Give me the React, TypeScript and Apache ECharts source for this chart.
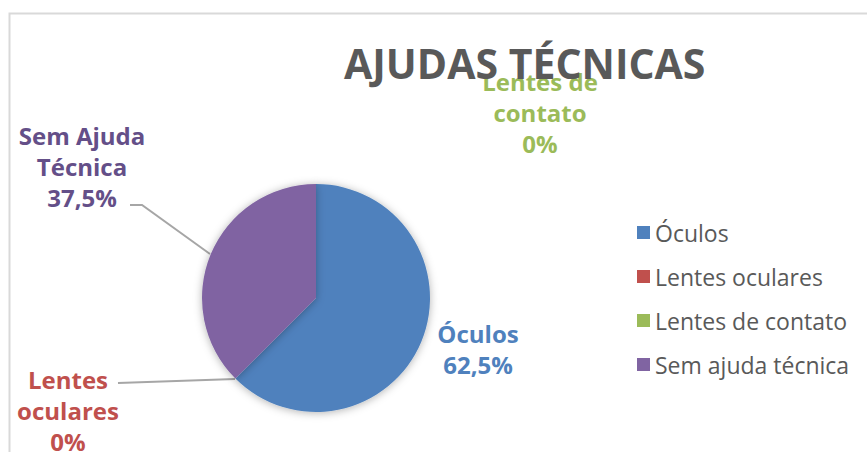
import React, { useEffect, useRef } from "react";
import * as echarts from "echarts";

const categories = ["Óculos", "Lentes oculares", "Lentes de contato", "Sem ajuda técnica"];
const labelNames = ["Óculos", "Lentes\noculares", "Lentes de\ncontato", "Sem Ajuda\nTécnica"];
const values = [62.5, 0, 0, 37.5];
const titleText = "AJUDAS TÉCNICAS";

const sliceColors = ["#4f81bd", "#c0504d", "#9bbb59", "#8064a2"];
const labelColors = ["#4f81bd", "#c0504d", "#9bbb59", "#644f88"];
// label centre positions (layout only)
const labelPos: [number, number][] = [
  [478, 349],
  [68, 410],
  [540, 112],
  [82, 166],
];
const linePts: ([number, number][] | null)[] = [
  null,
  [[235, 379], [118, 383], [118, 383]],
  null,
  [[210, 254], [142, 205], [130, 205]],
];

export default function App() {
  const ref = useRef<HTMLDivElement>(null);
  useEffect(() => {
    if (!ref.current) return;
    const chart = echarts.init(ref.current, undefined, { renderer: "svg" });
    const font = "'Open Sans', 'DejaVu Sans', sans-serif";
    chart.setOption({
      animation: false,
      backgroundColor: "#ffffff",
      title: {
        text: titleText,
        left: 344,
        top: 42,
        padding: 0,
        textStyle: { fontFamily: font, fontSize: 41, fontWeight: "bold", color: "#595959" },
      },
      legend: {
        orient: "vertical",
        left: 637,
        top: 221,
        padding: 0,
        itemWidth: 13,
        itemHeight: 13,
        itemGap: 21,
        icon: "rect",
        data: categories,
        textStyle: { fontFamily: font, fontSize: 23, lineHeight: 22, color: "#595959" },
      },
      graphic: [
        {
          type: "rect",
          left: 7,
          top: 11,
          z: -10,
          silent: true,
          shape: { width: 900, height: 500 },
          style: { fill: "none", stroke: "#d9d9d9", lineWidth: 2 },
        },
      ],
      series: [
        {
          type: "pie",
          center: [316, 298],
          radius: 114,
          startAngle: 90,
          clockwise: true,
          avoidLabelOverlap: false,
          minShowLabelAngle: -1,
          itemStyle: {
            shadowBlur: 8,
            shadowColor: "rgba(0,0,0,0.3)",
            shadowOffsetY: 1,
          },
          label: {
            show: true,
            position: "outside",
            fontFamily: font,
            fontSize: 24,
            fontWeight: "bold",
            lineHeight: 31,
            align: "center",
            formatter: (p: any) =>
              labelNames[p.dataIndex] + "\n" + String(p.percent).replace(".", ",") + "%",
          },
          labelLine: { show: true, lineStyle: { color: "#a6a6a6", width: 2 } },
          labelLayout: (p: any) => {
            const i = p.dataIndex;
            const o: any = {
              x: labelPos[i][0],
              y: labelPos[i][1],
              align: "center",
              verticalAlign: "middle",
            };
            if (linePts[i]) o.labelLinePoints = linePts[i];
            return o;
          },
          data: categories.map((name, i) => ({
            name,
            value: values[i],
            itemStyle: { color: sliceColors[i] },
            label: { color: labelColors[i] },
            labelLine: { show: !!linePts[i] },
          })),
        },
      ],
    });
    return () => chart.dispose();
  }, []);
  return (
    <div
      ref={ref}
      style={{ position: "fixed", left: 0, top: 0, width: 867, height: 452 }}
    />
  );
}
